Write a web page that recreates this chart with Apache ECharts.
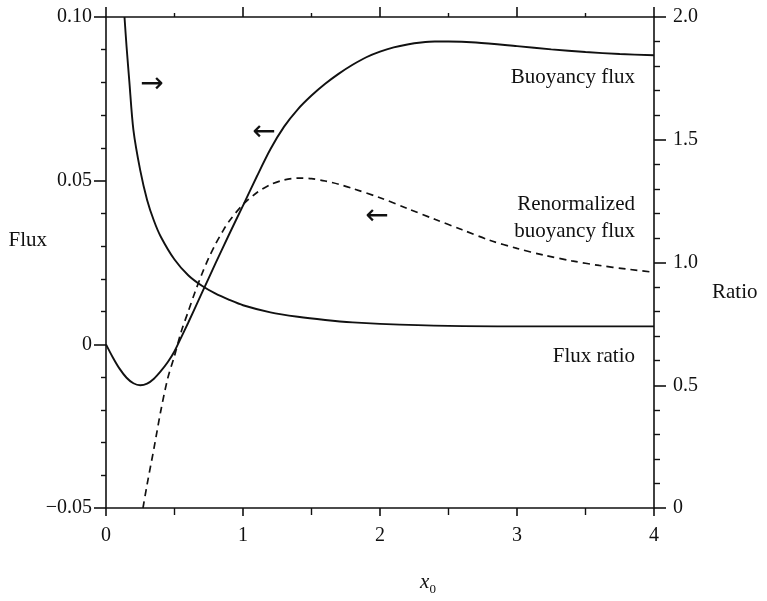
<!DOCTYPE html>
<html>
<head>
<meta charset="utf-8">
<script src="https://cdn.jsdelivr.net/npm/echarts@6/dist/echarts.min.js"></script>
<style>
html,body{margin:0;padding:0;background:#fff;}
#chart{width:767px;height:601px;}
</style>
</head>
<body>
<div id="chart"></div>
<script>
// ---- data ----
const xBuoy = [0, 0.05, 0.1, 0.15, 0.2, 0.25, 0.3, 0.35, 0.4, 0.45, 0.5, 0.55, 0.6, 0.7, 0.8, 0.9, 1.0, 1.1, 1.2, 1.3, 1.4, 1.5, 1.6, 1.7, 1.8, 1.9, 2.0, 2.1, 2.2, 2.3, 2.4, 2.5, 2.7, 3.0, 3.25, 3.5, 3.75, 4.0];
const buoyFlux = [0, -0.0040, -0.0075, -0.0102, -0.0119, -0.0125, -0.0120, -0.0105, -0.0082, -0.0055, -0.0021, 0.0022, 0.0066, 0.0157, 0.0248, 0.0337, 0.0424, 0.0512, 0.0596, 0.0665, 0.0718, 0.0760, 0.0796, 0.0827, 0.0854, 0.0877, 0.0894, 0.0907, 0.0916, 0.0922, 0.0925, 0.0925, 0.0922, 0.0911, 0.0901, 0.0893, 0.0887, 0.0883];

const xRenorm = [0.27, 0.30, 0.35, 0.40, 0.45, 0.50, 0.55, 0.60, 0.65, 0.70, 0.75, 0.80, 0.85, 0.90, 1.0, 1.1, 1.2, 1.3, 1.4, 1.5, 1.6, 1.7, 1.8, 2.0, 2.2, 2.4, 2.6, 2.8, 3.0, 3.2, 3.4, 3.6, 3.8, 4.0];
const renormFlux = [-0.05, -0.0428, -0.0318, -0.0203, -0.0105, -0.0035, 0.0040, 0.0100, 0.0160, 0.0215, 0.0264, 0.0307, 0.0344, 0.0377, 0.0427, 0.0463, 0.0488, 0.0502, 0.0508, 0.0506, 0.0499, 0.0489, 0.0476, 0.0448, 0.0415, 0.0382, 0.0350, 0.0318, 0.0293, 0.0272, 0.0255, 0.0241, 0.0230, 0.0220];

const xRatio = [0.135, 0.15, 0.17, 0.2, 0.25, 0.3, 0.35, 0.4, 0.5, 0.6, 0.7, 0.8, 0.9, 1.0, 1.2, 1.4, 1.6, 1.8, 2.0, 2.5, 3.0, 3.5, 4.0];
const fluxRatio = [2.0, 1.88, 1.74, 1.54, 1.375, 1.255, 1.17, 1.105, 1.012, 0.948, 0.905, 0.873, 0.848, 0.826, 0.797, 0.779, 0.766, 0.756, 0.750, 0.742, 0.740, 0.740, 0.740];

const xTicks = [0, 1, 2, 3, 4];
const fluxTicks = [-0.05, 0, 0.05, 0.10];
const ratioTicks = [0, 0.5, 1.0, 1.5, 2.0];

const curveLabels = ['Buoyancy flux', 'Renormalized\nbuoyancy flux', 'Flux ratio'];
const arrowTexts = ['\u2192', '\u2190', '\u2190'];

// ---- styling ----
const FONT = '"Liberation Serif", "Times New Roman", serif';
const INK = '#111';

const pairs = (xs, ys) => xs.map((x, i) => [x, ys[i]]);

const chart = echarts.init(document.getElementById('chart'), null, {renderer: 'canvas'});

const axisLineStyle = {color: INK, width: 1.6};
const labelStyle = {color: INK, fontFamily: FONT, fontSize: 20};

const option = {
  backgroundColor: '#fff',
  animation: false,
  grid: {left: 106, right: 113, top: 17, bottom: 81},
  xAxis: [
    {
      type: 'value', min: xTicks[0], max: xTicks[xTicks.length - 1], interval: 1,
      position: 'bottom',
      axisLine: {show: true, onZero: false, lineStyle: axisLineStyle},
      axisTick: {show: true, length: 8, lineStyle: axisLineStyle},
      minorTick: {show: true, splitNumber: 2, length: 7, lineStyle: {color: INK, width: 1.4}},
      splitLine: {show: false},
      axisLabel: Object.assign({margin: 18}, labelStyle),
      name: '{i|x}{s|0}',
      nameLocation: 'middle',
      nameGap: 60,
      nameMoveOverlap: false,
      nameTextStyle: {
        padding: [0, 0, 0, 96],
        rich: {
          i: {fontFamily: FONT, fontStyle: 'italic', fontSize: 21, color: INK, lineHeight: 28, verticalAlign: 'middle'},
          s: {fontFamily: FONT, fontSize: 13, color: INK, lineHeight: 28, verticalAlign: 'bottom'}
        }
      }
    },
    {
      type: 'value', min: xTicks[0], max: xTicks[xTicks.length - 1], interval: 1,
      position: 'top',
      axisLine: {show: true, onZero: false, lineStyle: axisLineStyle},
      axisTick: {show: true, length: 10, lineStyle: axisLineStyle},
      minorTick: {show: true, splitNumber: 2, length: 4, lineStyle: {color: INK, width: 1.4}},
      splitLine: {show: false},
      axisLabel: {show: false}
    }
  ],
  yAxis: [
    {
      type: 'value', min: fluxTicks[0], max: fluxTicks[fluxTicks.length - 1], interval: 0.05,
      position: 'left',
      axisLine: {show: true, onZero: false, lineStyle: axisLineStyle},
      axisTick: {show: true, length: 12, lineStyle: axisLineStyle},
      minorTick: {show: true, splitNumber: 5, length: 5, lineStyle: {color: INK, width: 1.4}},
      splitLine: {show: false},
      axisLabel: Object.assign({
        margin: 14,
        formatter: v => {
          const r = Math.round(v * 100) / 100;
          if (r === 0) return '0';
          return (r < 0 ? '\u2212' : '') + Math.abs(r).toFixed(2);
        }
      }, labelStyle),
      name: 'Flux',
      nameLocation: 'middle',
      nameRotate: 0,
      nameGap: 59,
      nameMoveOverlap: false,
      nameTextStyle: {fontFamily: FONT, fontSize: 21, color: INK, verticalAlign: 'bottom', lineHeight: 44}
    },
    {
      type: 'value', min: ratioTicks[0], max: ratioTicks[ratioTicks.length - 1], interval: 0.5,
      position: 'right',
      axisLine: {show: true, onZero: false, lineStyle: axisLineStyle},
      axisTick: {show: true, length: 12, lineStyle: axisLineStyle},
      minorTick: {show: true, splitNumber: 5, length: 6, lineStyle: {color: INK, width: 1.4}},
      splitLine: {show: false},
      axisLabel: Object.assign({
        margin: 19,
        formatter: v => {
          const r = Math.round(v * 10) / 10;
          return r === 0 ? '0' : r.toFixed(1);
        }
      }, labelStyle),
      name: 'Ratio',
      nameLocation: 'middle',
      nameRotate: 0,
      nameGap: 58,
      nameMoveOverlap: false,
      nameTextStyle: {fontFamily: FONT, fontSize: 21, color: INK, verticalAlign: 'top', lineHeight: 60}
    }
  ],
  series: [
    {
      name: 'Buoyancy flux', type: 'line', xAxisIndex: 0, yAxisIndex: 0,
      data: pairs(xBuoy, buoyFlux), showSymbol: false, symbol: 'none',
      smooth: 0.3,
      lineStyle: {color: INK, width: 1.9}
    },
    {
      name: 'Renormalized buoyancy flux', type: 'line', xAxisIndex: 0, yAxisIndex: 0,
      data: pairs(xRenorm, renormFlux), showSymbol: false, symbol: 'none',
      smooth: 0.3,
      lineStyle: {color: INK, width: 1.7, type: [7, 5]}
    },
    {
      name: 'Flux ratio', type: 'line', xAxisIndex: 0, yAxisIndex: 1,
      data: pairs(xRatio, fluxRatio), showSymbol: false, symbol: 'none',
      smooth: 0.3,
      lineStyle: {color: INK, width: 1.9}
    }
  ],
  graphic: [
    {type: 'text', x: 635, y: 77, style: {text: curveLabels[0], font: '21px ' + FONT, fill: INK, align: 'right', verticalAlign: 'middle'}},
    {type: 'text', x: 635, y: 218, style: {text: curveLabels[1], font: '21px ' + FONT, fill: INK, align: 'right', verticalAlign: 'middle', lineHeight: 27}},
    {type: 'text', x: 635, y: 356, style: {text: curveLabels[2], font: '21px ' + FONT, fill: INK, align: 'right', verticalAlign: 'middle'}},
    {type: 'text', x: 152, y: 85, style: {text: arrowTexts[0], font: '28px "DejaVu Sans"', fill: INK, align: 'center', verticalAlign: 'middle'}},
    {type: 'text', x: 264, y: 133, style: {text: arrowTexts[1], font: '28px "DejaVu Sans"', fill: INK, align: 'center', verticalAlign: 'middle'}},
    {type: 'text', x: 377, y: 217, style: {text: arrowTexts[2], font: '28px "DejaVu Sans"', fill: INK, align: 'center', verticalAlign: 'middle'}}
  ]
};

chart.setOption(option);
</script>
</body>
</html>
